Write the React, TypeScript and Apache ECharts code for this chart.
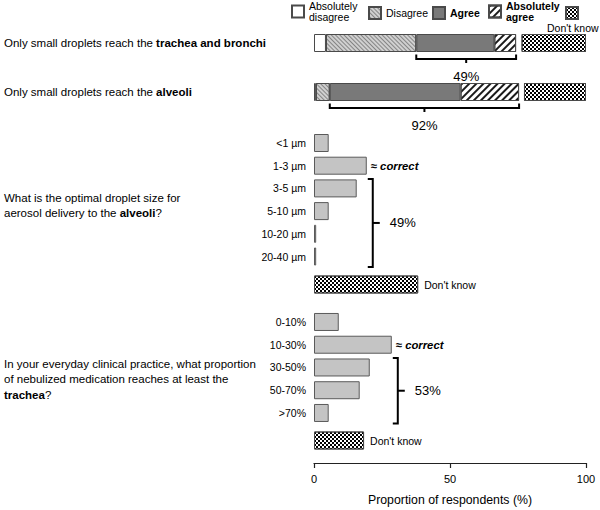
import React, { useEffect, useRef } from 'react';
import * as echarts from 'echarts';

// ---------- data ----------
const statementCategories = [
  'Only small droplets reach the trachea and bronchi',
  'Only small droplets reach the alveoli',
];
const statementBold = ['trachea and bronchi', 'alveoli'];
const absolutelyDisagree = [4.4, 0.7];
const disagree = [33.2, 5.1];
const agree = [28.7, 48.1];
const absolutelyAgree = [8.0, 21.5];
const gapBeforeDontKnow = [2.0, 1.8];
const statementDontKnow = [23.7, 22.8];
const statementPercents = ['49%', '92%'];

const sizeCategories = ['<1 µm', '1-3 µm', '3-5 µm', '5-10 µm', '10-20 µm', '20-40 µm'];
const sizeValues = [5.4, 19.4, 15.7, 5.4, 0.8, 0.8];
const sizeDontKnow = [38.3];
const sizeCorrectIndex = 1;
const sizeBracketRange = [2, 5];
const sizeBracketLabel = '49%';

const propCategories = ['0-10%', '10-30%', '30-50%', '50-70%', '>70%'];
const propValues = [9.1, 28.6, 20.5, 16.8, 5.4];
const propDontKnow = [18.4];
const propCorrectIndex = 1;
const propBracketRange = [2, 4];
const propBracketLabel = '53%';

const xTickInterval = 50;
const xAxisTitle = 'Proportion of respondents (%)';
const sizeQuestion = 'What is the optimal droplet size for\naerosol delivery to the {b|alveoli}?';
const propQuestion =
  'In your everyday clinical practice, what proportion\nof nebulized medication reaches at least the\n{b|trachea}?';

// ---------- styles ----------
const FONT = '"Liberation Sans", Arial, Helvetica, sans-serif';
const BORDER = '#4a4a4a';
const GL = 314;
const GR = 14;
const BAR_W = 18;

const checkerDecal = {
  symbol: 'rect',
  symbolSize: 1,
  color: '#000',
  dashArrayX: [[2, 2], [0, 2, 2, 0]],
  dashArrayY: [2, 0],
};
const disagreeDecal = {
  symbol: 'rect',
  symbolSize: 1,
  color: '#858585',
  dashArrayX: [1, 0],
  dashArrayY: [1, 1.3],
  rotation: Math.PI / 4,
};
const absAgreeDecal = {
  symbol: 'rect',
  symbolSize: 1,
  color: '#1a1a1a',
  dashArrayX: [1, 0],
  dashArrayY: [1.4, 2.6],
  rotation: -Math.PI / 4,
};

function buildOption() {
  const grids = [
    { left: GL, right: GR, top: 18.5, height: 98 },
    { left: GL, right: GR, top: 131.65, height: 136.2 },
    { left: GL, right: GR, top: 274, height: 21 },
    { left: GL, right: GR, top: 310.6, height: 113.75 },
    { left: GL, right: GR, top: 430, height: 21 },
  ];
  const xAxis = grids.map((_, i) => ({
    type: 'value',
    gridIndex: i,
    min: 0,
    max: 100,
    interval: xTickInterval,
    show: i === 4,
    offset: 12,
    axisLine: { show: true, lineStyle: { color: '#222', width: 1.2 } },
    axisTick: { show: true, length: 5, lineStyle: { color: '#222', width: 1.2 } },
    axisLabel: { color: '#000', fontSize: 11, fontFamily: FONT, margin: 10 },
    splitLine: { show: false },
    name: i === 4 ? xAxisTitle : '',
    nameLocation: 'middle',
    nameGap: 31,
    nameTextStyle: { fontSize: 12.3, fontFamily: FONT, color: '#000' },
  }));
  const catAxisBase = {
    type: 'category',
    inverse: true,
    axisLine: { show: false },
    axisTick: { show: false },
    splitLine: { show: false },
  };
  const yAxis = [
    {
      ...catAxisBase,
      gridIndex: 0,
      data: statementCategories,
      axisLabel: {
        align: 'left',
        margin: GL - 4,
        fontSize: 11.5,
        fontFamily: FONT,
        color: '#000',
        formatter: (v: string) => {
          const i = statementCategories.indexOf(v);
          const b = statementBold[i];
          return v.replace(b, '{b|' + b + '}');
        },
        rich: { b: { fontWeight: 'bold', fontSize: 11.5, fontFamily: FONT, color: '#000' } },
      },
    },
    {
      ...catAxisBase,
      gridIndex: 1,
      data: sizeCategories,
      axisLabel: { margin: 8, fontSize: 10.5, fontFamily: FONT, color: '#000' },
    },
    { ...catAxisBase, gridIndex: 2, data: ['dk'], axisLabel: { show: false } },
    {
      ...catAxisBase,
      gridIndex: 3,
      data: propCategories,
      axisLabel: { margin: 8, fontSize: 10.5, fontFamily: FONT, color: '#000' },
    },
    { ...catAxisBase, gridIndex: 4, data: ['dk'], axisLabel: { show: false } },
  ];

  const stackBase = { type: 'bar', stack: 'opinion', xAxisIndex: 0, yAxisIndex: 0, barWidth: BAR_W };
  const border = { borderColor: BORDER, borderWidth: 1 };
  const correctLabel = {
    show: true,
    position: 'right',
    distance: 4,
    formatter: '≈ correct',
    fontSize: 11.3,
    fontWeight: 'bold',
    fontStyle: 'italic',
    fontFamily: FONT,
    color: '#000',
  };
  const dkLabel = {
    show: true,
    position: 'right',
    distance: 6,
    formatter: "Don't know",
    fontSize: 10.5,
    fontFamily: FONT,
    color: '#000',
  };
  const plainBar = { color: '#c4c4c4', borderColor: '#5a5a5a', borderWidth: 1 };

  const series = [
    { ...stackBase, name: 'Absolutely disagree', data: absolutelyDisagree, itemStyle: { color: '#fff', ...border } },
    { ...stackBase, name: 'Disagree', data: disagree, itemStyle: { color: '#d0d0d0', ...border, decal: disagreeDecal } },
    { ...stackBase, name: 'Agree', data: agree, itemStyle: { color: '#797979', ...border } },
    { ...stackBase, name: 'Absolutely agree', data: absolutelyAgree, itemStyle: { color: '#fff', ...border, decal: absAgreeDecal } },
    { ...stackBase, name: 'gap', data: gapBeforeDontKnow, silent: true, itemStyle: { color: 'rgba(0,0,0,0)', borderWidth: 0 } },
    { ...stackBase, name: "Don't know", data: statementDontKnow, itemStyle: { color: '#fff', ...border, decal: checkerDecal } },
    {
      type: 'bar', name: 'size', xAxisIndex: 1, yAxisIndex: 1, barWidth: BAR_W,
      itemStyle: plainBar,
      data: sizeValues.map((v, i) => (i === sizeCorrectIndex ? { value: v, label: correctLabel } : v)),
    },
    {
      type: 'bar', name: 'sizeDK', xAxisIndex: 2, yAxisIndex: 2, barWidth: BAR_W,
      itemStyle: { color: '#fff', ...border, decal: checkerDecal },
      label: dkLabel,
      data: sizeDontKnow,
    },
    {
      type: 'bar', name: 'prop', xAxisIndex: 3, yAxisIndex: 3, barWidth: BAR_W,
      itemStyle: plainBar,
      data: propValues.map((v, i) => (i === propCorrectIndex ? { value: v, label: correctLabel } : v)),
    },
    {
      type: 'bar', name: 'propDK', xAxisIndex: 4, yAxisIndex: 4, barWidth: BAR_W,
      itemStyle: { color: '#fff', ...border, decal: checkerDecal },
      label: dkLabel,
      data: propDontKnow,
    },
  ];

  const legendBase = {
    orient: 'horizontal',
    itemWidth: 12,
    itemHeight: 12,
    padding: 0,
    selectedMode: false,
    icon: 'rect',
    textStyle: { fontSize: 10.5, fontFamily: FONT, color: '#000', lineHeight: 11.5 },
  };
  const legend = [
    { ...legendBase, data: ['Absolutely disagree'], left: 291, top: 0, formatter: () => 'Absolutely\ndisagree' },
    { ...legendBase, data: ['Disagree'], left: 368, top: 6 },
    { ...legendBase, data: ['Agree'], left: 432, top: 6, textStyle: { ...legendBase.textStyle, fontWeight: 'bold' } },
    {
      ...legendBase, data: ['Absolutely agree'], left: 488, top: 0,
      formatter: () => 'Absolutely\nagree',
      textStyle: { ...legendBase.textStyle, fontWeight: 'bold' },
    },
    { ...legendBase, data: ["Don't know"], left: 565, top: 6, formatter: () => '' },
  ];

  return {
    animation: false,
    backgroundColor: '#fff',
    textStyle: { fontFamily: FONT },
    grid: grids,
    xAxis,
    yAxis,
    legend,
    series,
  };
}

function buildGraphics(chart: any) {
  const px = (gi: number, x: number, yi: number) => chart.convertToPixel({ gridIndex: gi }, [x, yi]) as number[];
  const line = { stroke: '#000', lineWidth: 2, fill: null, lineJoin: 'miter' };
  const pctText = (x: number, y: number, text: string, align: string) => ({
    type: 'text',
    x,
    y,
    style: { text, fontSize: 13, fontFamily: FONT, fill: '#000', align, verticalAlign: 'middle' },
  });
  const els: any[] = [];

  // horizontal brackets under the stacked statement bars
  statementCategories.forEach((_, i) => {
    const start = absolutelyDisagree[i] + disagree[i];
    const end = start + agree[i] + absolutelyAgree[i];
    const [x1, cy] = px(0, start, i);
    const [x2] = px(0, end, i);
    const b = cy + BAR_W / 2;
    const mid = (x1 + x2) / 2;
    els.push({ type: 'polyline', shape: { points: [[x1, b + 2.5], [x1, b + 7], [x2, b + 7], [x2, b + 2.5]] }, style: line });
    els.push({ type: 'line', shape: { x1: mid, y1: b + 7, x2: mid, y2: b + 11 }, style: line });
    els.push(pctText(mid, b + 24, statementPercents[i], 'center'));
  });

  // vertical brackets
  const vBracket = (gi: number, values: number[], range: number[], label: string) => {
    const maxV = Math.max(...values);
    const [mx] = px(gi, maxV, 0);
    const [, yA] = px(gi, 0, range[0]);
    const [, yB] = px(gi, 0, range[1]);
    const top = yA - BAR_W / 2 - 0.5;
    const bot = yB + BAR_W / 2 + 1.5;
    const lx = mx + 6;
    const my = (top + bot) / 2;
    els.push({ type: 'polyline', shape: { points: [[mx + 1, top], [lx, top], [lx, bot], [mx + 1, bot]] }, style: line });
    els.push({ type: 'line', shape: { x1: lx, y1: my, x2: lx + 7, y2: my }, style: line });
    els.push(pctText(lx + 17, my, label, 'left'));
  };
  vBracket(1, sizeValues, sizeBracketRange, sizeBracketLabel);
  vBracket(3, propValues, propBracketRange, propBracketLabel);

  const rich = { b: { fontWeight: 'bold', fontSize: 11.5, fontFamily: FONT, fill: '#000', lineHeight: 15.5 } };
  els.push({
    type: 'text', x: 4, y: 205.5,
    style: { text: sizeQuestion, fontSize: 11.5, fontFamily: FONT, fill: '#000', lineHeight: 15.5, align: 'left', verticalAlign: 'middle', rich },
  });
  els.push({
    type: 'text', x: 4, y: 379,
    style: { text: propQuestion, fontSize: 11.5, fontFamily: FONT, fill: '#000', lineHeight: 15.5, align: 'left', verticalAlign: 'middle', rich },
  });
  els.push({
    type: 'text', x: 547, y: 28,
    style: { text: "Don't know", fontSize: 10.5, fontFamily: FONT, fill: '#000', align: 'left', verticalAlign: 'middle' },
  });
  return els;
}

export default function App() {
  const ref = useRef<HTMLDivElement>(null);
  useEffect(() => {
    const chart = echarts.init(ref.current as HTMLDivElement, null, { renderer: 'svg' });
    chart.setOption(buildOption() as any);
    chart.setOption({ graphic: buildGraphics(chart) } as any);
    return () => chart.dispose();
  }, []);
  return (
    <div
      ref={ref}
      style={{ position: 'fixed', left: 0, top: 0, width: 600, height: 510, background: '#fff' }}
    />
  );
}
